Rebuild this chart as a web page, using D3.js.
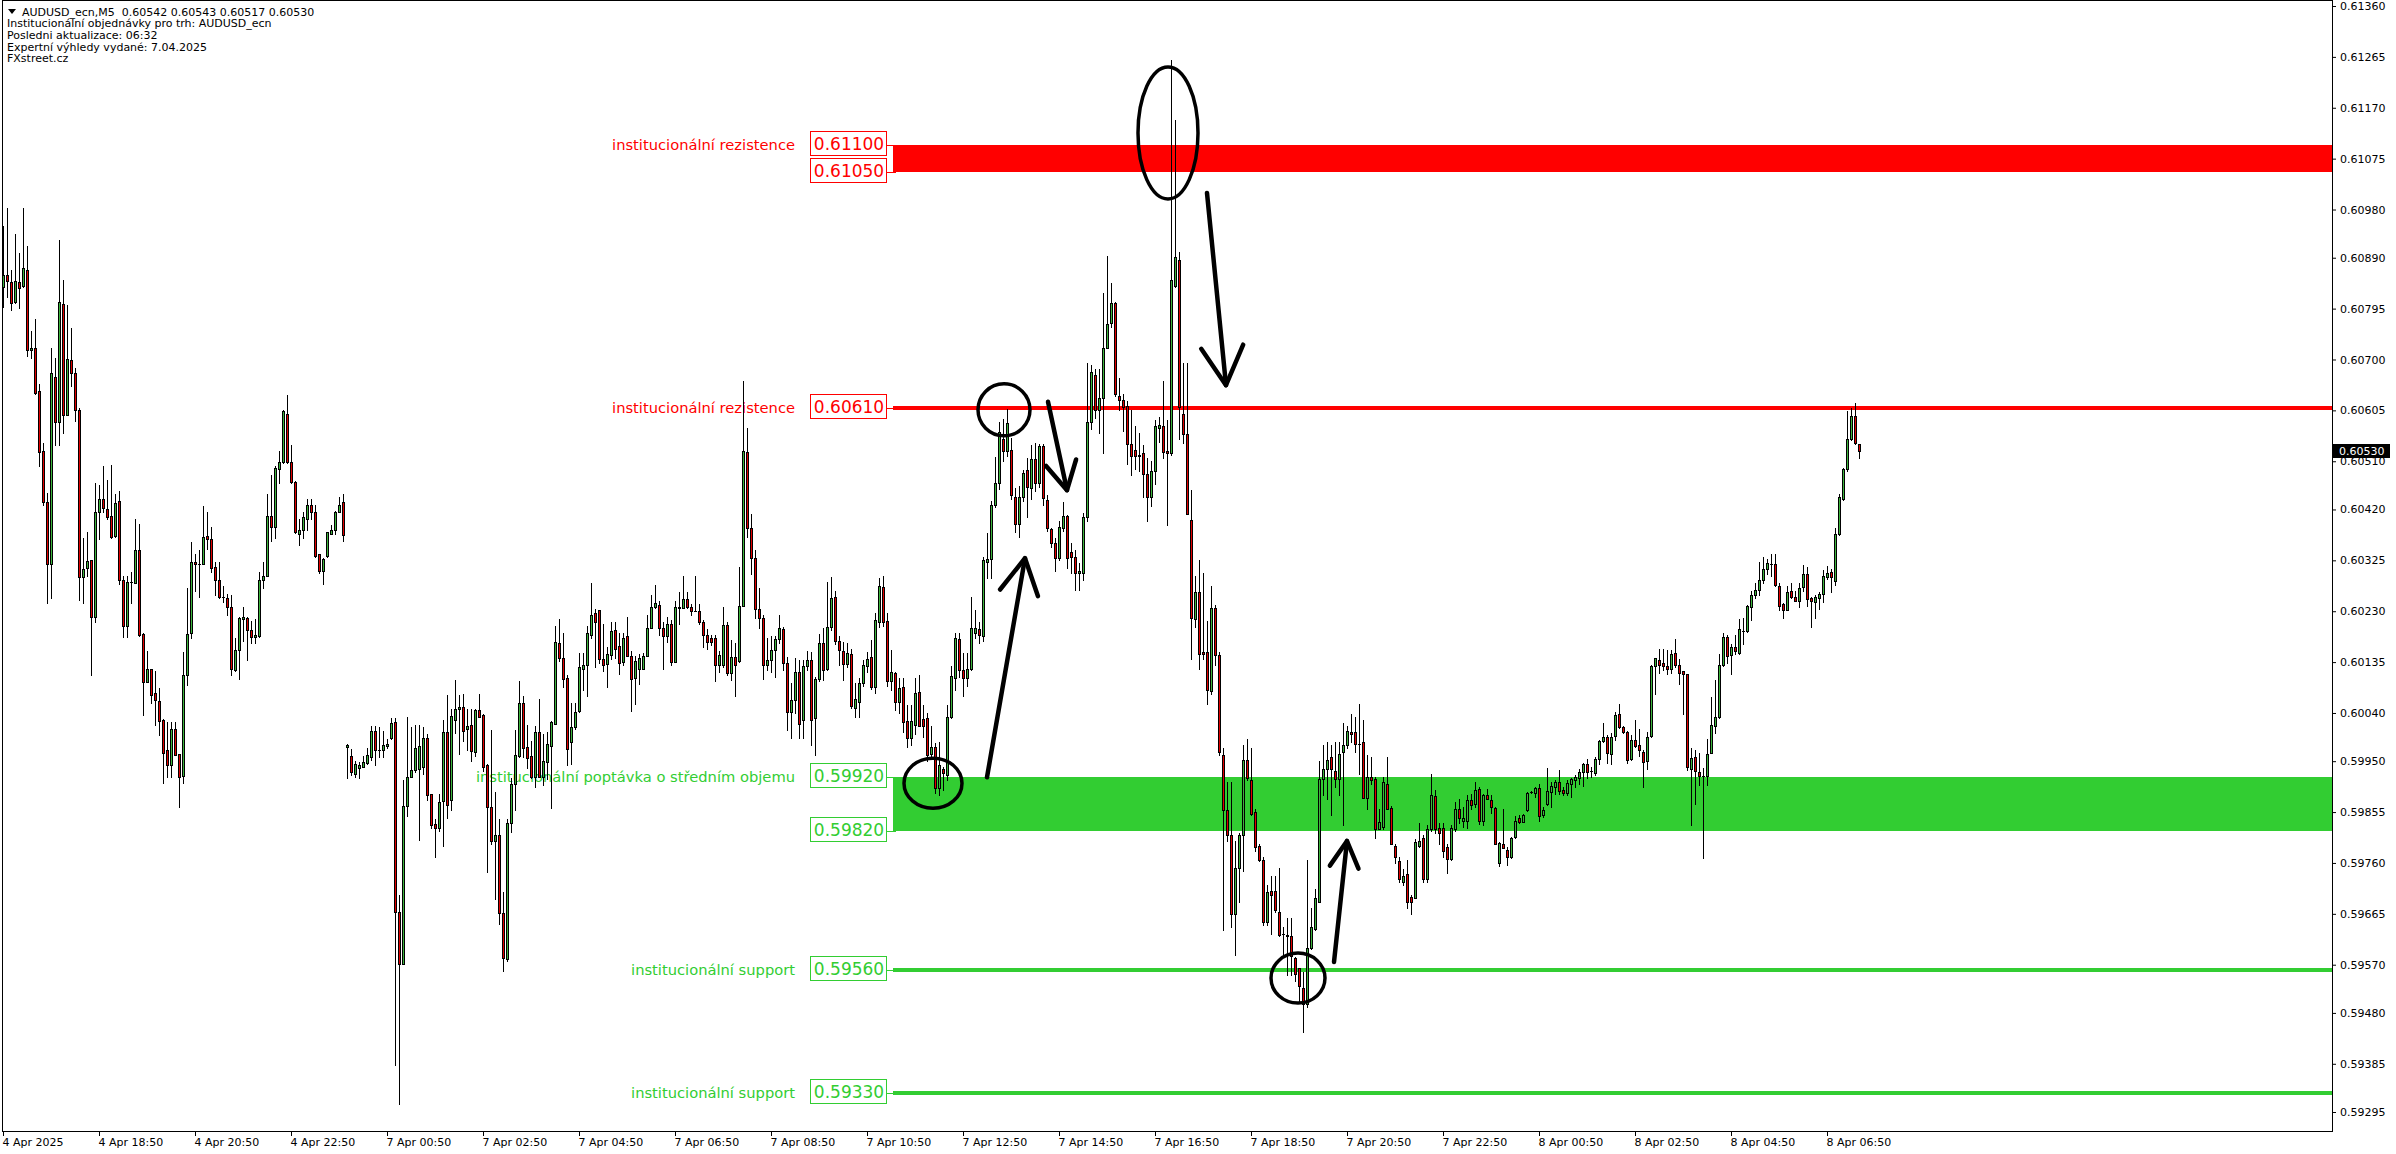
<!DOCTYPE html>
<html><head><meta charset="utf-8">
<script src="https://cdn.jsdelivr.net/npm/d3@7"></script>
<style>
html,body{margin:0;padding:0;background:#fff;}
svg{display:block;}
text{font-family:"DejaVu Sans",sans-serif;}
</style></head><body>
<svg id="chart" width="2396" height="1154"></svg>
<script>
// Prices are in points (1 point = 0.00001). One M5 bar per entry, 4 Apr 16:50 -> 8 Apr 07:30.
const barOpen=[60835,60857,60844,60808,60844,60837,60868,60717,60721,60641,
60529,60433,60319,60667,60583,60804,60597,60699,60675,60606,
60294,60311,60326,60219,60415,60439,60420,60407,60370,60435,
60289,60203,60285,60282,60344,60187,60097,60122,60077,60062,
60027,59970,59942,60011,59963,59922,60110,60189,60322,60319,
60319,60370,60365,60313,60289,60256,60254,60237,60121,60158,
60215,60217,60195,60181,60184,60288,60296,60407,60387,60496,
60509,60599,60509,60472,60374,60381,60402,60428,60416,60336,
60305,60333,60375,60381,60415,60433,59976,59960,59927,59938,
59940,59947,59957,60006,59970,59970,59979,59994,60024,59668,
59572,59866,59921,59934,59936,59939,59993,59889,59833,59825,
59876,60005,59878,60026,60047,60052,60011,60017,59968,60046,
60036,59942,59865,59801,59812,59666,59580,59835,59908,59959,
60058,59976,59959,59921,60005,59921,59949,59979,60020,60170,
60142,60105,59985,60013,60043,60123,60129,60186,60226,60232,
60140,60131,60148,60195,60165,60135,60183,60146,60105,60122,
60123,60146,60199,60238,60242,60199,60183,60206,60135,60236,
60236,60253,60238,60231,60231,60210,60186,60180,60180,60130,
60130,60205,60114,60145,60137,60239,60528,60386,60330,60234,
60218,60129,60139,60158,60178,60197,60134,60041,60064,60117,
60026,60128,60139,60030,60103,60170,60122,60200,60256,60175,
60155,60132,60150,60050,60061,60096,60128,60144,60088,60209,
60276,60212,60099,60114,60060,60088,60025,59993,60017,60080,
60028,60030,59963,59977,59900,59936,59925,60032,60106,60178,
60121,60106,60122,60189,60196,60184,60321,60328,60429,60469,
60551,60530,60531,60444,60393,60444,60494,60460,60514,60470,
60538,60437,60383,60357,60329,60385,60407,60341,60332,60301,
60301,60405,60584,60671,60605,60629,60722,60768,60805,60632,
60625,60613,60543,60531,60519,60525,60486,60444,60492,60573,
60575,60530,60525,60837,60885,60599,60561,60400,60216,60266,
60153,60153,60081,60236,60149,59962,59858,59813,59664,59750,
59813,59952,59914,59855,59792,59765,59649,59708,59708,59668,
59628,59625,59623,59583,59563,59527,59497,59601,59637,59688,
59917,59935,59958,59932,59917,59968,59980,60004,60004,59982,
59986,59882,59920,59917,59823,59827,59908,59863,59792,59763,
59724,59739,59696,59694,59792,59807,59730,59823,59885,59825,
59825,59789,59768,59823,59861,59839,59839,59878,59870,59899,
59838,59886,59878,59862,59760,59796,59785,59772,59809,59844,
59837,59859,59893,59891,59900,59850,59870,59893,59902,59912,
59897,59891,59907,59915,59918,59930,59945,59931,59928,59955,
59987,59996,59963,59997,60038,60013,60005,59954,59989,59981,
59968,59951,59997,60128,60139,60134,60128,60122,60152,60129,
60118,60112,59935,59958,59929,59922,59922,59965,60015,60032,
60130,60181,60149,60164,60152,60194,60193,60237,60260,60269,
60289,60308,60318,60318,60277,60244,60232,60267,60256,60250,
60276,60300,60255,60248,60255,60263,60294,60303,60287,60374,
60440,60496,60551,60594,60542];
const barHigh=[60950,60983,60868,60935,60898,60983,60911,60753,60776,60654,
60544,60451,60721,60702,60924,60848,60802,60758,60684,60610,
60367,60377,60326,60470,60466,60502,60475,60503,60448,60455,
60295,60295,60304,60403,60392,60189,60156,60123,60118,60086,
60029,60023,60023,60023,59964,60154,60274,60359,60337,60344,
60426,60415,60387,60322,60322,60278,60263,60260,60180,60219,
60237,60219,60212,60215,60304,60322,60448,60485,60501,60529,
60606,60634,60540,60474,60403,60416,60439,60439,60429,60337,
60330,60377,60391,60417,60444,60448,59982,59972,59950,59949,
59960,59975,60015,60015,60013,60006,59992,60030,60030,59700,
59915,60032,60013,60017,60017,60013,60000,59889,59842,59889,
60026,60073,60048,60101,60073,60076,60047,60047,60047,60076,
60039,59945,60009,59893,59842,59705,59842,59919,60009,60099,
60071,60017,59987,60015,60067,60000,60005,60025,60203,60215,
60190,60110,60059,60059,60152,60152,60203,60283,60234,60233,
60206,60163,60210,60210,60189,60189,60220,60155,60146,60150,
60152,60223,60260,60279,60250,60210,60219,60214,60249,60266,
60296,60266,60244,60296,60244,60214,60197,60185,60185,60155,
60238,60210,60176,60170,60313,60660,60572,60411,60345,60273,
60223,60180,60183,60183,60223,60200,60145,60096,60142,60139,
60139,60155,60153,60108,60187,60198,60284,60293,60267,60183,
60173,60170,60159,60096,60105,60139,60153,60176,60226,60292,
60295,60226,60158,60117,60105,60105,60055,60055,60105,60111,
60055,60040,60016,59984,59985,59940,60055,60127,60189,60190,
60152,60152,60257,60233,60210,60332,60376,60435,60518,60584,
60589,60607,60553,60460,60463,60494,60516,60541,60545,60543,
60542,60447,60385,60367,60398,60433,60410,60357,60345,60320,
60413,60694,60690,60682,60682,60825,60893,60843,60808,60665,
60635,60623,60605,60575,60563,60540,60516,60510,60587,60593,
60659,60587,61260,61147,60900,60694,60694,60456,60295,60325,
60301,60212,60278,60242,60153,59974,59911,59911,59801,59815,
59980,59992,59974,59861,59795,59771,59718,59736,59736,59751,
59640,59658,59658,59584,59563,59557,59765,59676,59712,59950,
59980,59986,59980,59986,59986,60022,60016,60039,60033,60057,
60027,59962,59958,59920,59861,59920,59958,59867,59795,59771,
59748,59765,59700,59805,59835,59813,59831,59926,59896,59835,
59835,59795,59831,59873,59879,59864,59886,59889,59912,59902,
59889,59899,59886,59865,59799,59860,59790,59809,59848,59849,
59851,59893,59895,59902,59907,59864,59938,59912,59915,59933,
59901,59915,59918,59925,59936,59947,59954,59940,59957,59989,
60021,59999,60002,60041,60057,60015,60007,59999,60027,60010,
59970,60005,60129,60143,60160,60159,60157,60157,60179,60141,
60119,60113,59975,59971,59965,59938,59992,60070,60102,60151,
60189,60186,60168,60186,60216,60218,60242,60267,60282,60322,
60332,60327,60337,60337,60282,60245,60278,60282,60267,60282,
60316,60312,60256,60260,60265,60307,60314,60308,60386,60448,
60498,60604,60609,60619,60543];
const barLow=[60798,60817,60793,60806,60797,60835,60706,60702,60636,60502,
60429,60246,60254,60540,60540,60562,60597,60651,60586,60251,
60246,60296,60110,60209,60364,60415,60403,60367,60368,60280,
60182,60182,60246,60282,60184,60036,60097,60058,60018,59998,
59910,59920,59920,59961,59865,59909,60093,60180,60268,60256,
60319,60346,60304,60260,60254,60248,60223,60110,60119,60103,
60175,60138,60171,60171,60181,60273,60296,60361,60367,60470,
60507,60507,60470,60376,60353,60367,60381,60403,60331,60302,
60280,60331,60374,60375,60415,60361,59919,59925,59921,59919,
59939,59945,59953,59942,59957,59957,59975,59992,59383,59310,
59572,59848,59921,59929,59803,59927,59878,59825,59771,59820,
59792,59844,59859,60002,59963,59987,59970,59951,59960,60033,
59932,59743,59795,59693,59646,59559,59576,59818,59859,59957,
59957,59938,59919,59902,59921,59906,59917,59863,60019,60137,
60088,59942,59945,60011,60041,60083,60071,60180,60126,60133,
60118,60088,60140,60142,60112,60129,60146,60043,60056,60095,
60123,60146,60199,60236,60185,60123,60172,60129,60135,60206,
60236,60236,60223,60230,60206,60163,60159,60167,60100,60116,
60125,60110,60102,60072,60136,60239,60369,60299,60218,60198,
60104,60120,60116,60108,60170,60120,60008,59993,60040,59993,
59993,60120,59980,59962,60099,60102,60121,60195,60168,60130,
60102,60125,60050,60032,60033,60090,60117,60085,60078,60200,
60202,60090,60083,60046,60040,60005,59977,59980,60000,60015,
59995,59950,59955,59890,59887,59896,59915,60030,60083,60108,
60071,60090,60121,60180,60170,60175,60292,60292,60425,60458,
60511,60520,60440,60377,60369,60435,60406,60440,60455,60462,
60428,60380,60350,60305,60326,60380,60310,60302,60269,60269,
60289,60399,60570,60590,60563,60525,60722,60760,60632,60605,
60567,60504,60484,60496,60492,60444,60399,60426,60468,60546,
60516,60391,60522,60835,60551,60545,60412,60141,60200,60123,
60140,60057,60075,60129,59962,59634,59801,59640,59589,59688,
59745,59914,59849,59783,59763,59644,59644,59628,59668,59623,
59589,59551,59551,59539,59503,59444,59491,59599,59634,59688,
59887,59879,59849,59902,59887,59831,59974,59986,59968,59926,
59882,59861,59908,59807,59823,59823,59861,59795,59759,59724,
59718,59676,59664,59694,59790,59724,59724,59820,59815,59795,
59771,59742,59765,59820,59835,59828,59826,59860,59864,59833,
59831,59880,59854,59796,59754,59788,59757,59770,59807,59835,
59837,59857,59891,59884,59839,59846,59869,59864,59889,59888,
59886,59886,59884,59902,59907,59904,59918,59920,59924,59944,
59985,59947,59945,59989,60012,60002,59947,59953,59976,59960,
59902,59935,59996,60076,60115,60121,60112,60115,60126,60095,
60038,59933,59831,59870,59906,59770,59906,59965,60003,60031,
60128,60134,60112,60150,60150,60168,60192,60213,60255,60260,
60282,60300,60296,60277,60232,60217,60232,60255,60249,60238,
60268,60240,60200,60218,60234,60248,60290,60266,60279,60372,
60437,60491,60549,60543,60517];
const barClose=[60857,60846,60806,60846,60834,60871,60717,60721,60638,60527,
60433,60319,60674,60583,60807,60597,60700,60675,60605,60293,
60309,60324,60220,60415,60439,60422,60406,60368,60432,60289,
60203,60285,60284,60344,60186,60098,60123,60074,60064,60025,
59966,59942,60011,59962,59920,60110,60188,60322,60319,60319,
60369,60364,60311,60289,60256,60256,60237,60123,60158,60217,
60219,60195,60181,60186,60288,60296,60407,60387,60498,60508,
60603,60509,60472,60378,60381,60405,60428,60415,60333,60305,
60328,60377,60381,60415,60429,60372,59981,59929,59945,59943,
59949,59962,60006,59970,59971,59980,59983,60022,59668,59572,
59866,59921,59934,59975,59979,59993,59886,59831,59825,59873,
60005,59869,60035,60047,60052,60007,60015,59969,60046,60033,
59940,59865,59801,59812,59666,59582,59835,59908,59962,60058,
59975,59956,59921,60005,59921,59951,59983,60024,60172,60142,
60103,59973,60013,60041,60126,60129,60189,60223,60210,60140,
60129,60150,60193,60159,60133,60180,60146,60103,60137,60142,
60146,60199,60238,60245,60199,60183,60206,60135,60238,60238,
60253,60238,60230,60230,60210,60186,60172,60173,60130,60148,
60205,60114,60145,60130,60239,60529,60385,60330,60234,60217,
60129,60139,60158,60178,60198,60134,60041,60064,60117,60020,
60128,60139,60026,60103,60170,60120,60200,60254,60175,60158,
60132,60152,60053,60066,60096,60130,60140,60089,60213,60277,
60209,60099,60117,60061,60086,60023,59993,60025,60077,60016,
60015,59962,59977,59900,59943,59928,60032,60109,60180,60121,
60106,60122,60198,60198,60186,60326,60328,60428,60469,60564,
60530,60581,60447,60393,60444,60489,60461,60514,60470,60538,
60441,60385,60357,60329,60388,60408,60329,60332,60301,60305,
60405,60584,60677,60605,60629,60722,60766,60805,60635,60625,
60611,60543,60519,60519,60522,60486,60444,60492,60575,60578,
60528,60525,60849,60891,60611,60561,60412,60218,60266,60150,
60150,60083,60236,60149,59968,59858,59813,59664,59750,59813,
59952,59918,59851,59789,59765,59649,59706,59700,59673,59625,
59628,59623,59587,59553,59530,59497,59601,59640,59694,59917,
59935,59952,59935,59917,59964,59980,60006,60000,59982,59982,
59882,59920,59914,59823,59837,59911,59861,59795,59771,59730,
59736,59688,59688,59799,59801,59730,59823,59887,59823,59815,
59783,59768,59825,59861,59843,59844,59878,59869,59897,59839,
59886,59880,59865,59796,59797,59788,59772,59807,59839,59837,
59850,59891,59893,59900,59848,59859,59894,59904,59912,59895,
59891,59910,59916,59920,59929,59945,59929,59931,59955,59987,
59996,59965,59996,60036,60013,60004,59952,59989,59978,59970,
59949,59996,60128,60142,60129,60128,60122,60150,60129,60115,
60112,59940,59956,59931,59922,59922,59963,60018,60032,60130,
60181,60146,60164,60155,60197,60194,60239,60260,60269,60289,
60308,60320,60318,60279,60240,60232,60265,60256,60250,60274,
60300,60253,60250,60256,60262,60295,60301,60293,60374,60443,
60496,60551,60594,60544,60530];

// axis ticks
const yTickValues=[61360,61265,61170,61075,60980,60890,60795,60700,60605,60510,60420,60325,
60230,60135,60040,59950,59855,59760,59665,59570,59480,59385,59295];
const xTickBars=[0,24,48,72,96,120,144,168,192,216,240,264,288,312,336,360,384,408,432,456];
const xTickLabels=["4 Apr 2025","4 Apr 18:50","4 Apr 20:50","4 Apr 22:50","7 Apr 00:50","7 Apr 02:50",
"7 Apr 04:50","7 Apr 06:50","7 Apr 08:50","7 Apr 10:50","7 Apr 12:50","7 Apr 14:50","7 Apr 16:50",
"7 Apr 18:50","7 Apr 20:50","7 Apr 22:50","8 Apr 00:50","8 Apr 02:50","8 Apr 04:50","8 Apr 06:50"];

// institutional zones and lines
const zoneTop=[61100,59920];
const zoneBottom=[61050,59820];
const zoneLabel=["institucionální rezistence","institucionální poptávka o středním objemu"];
const zoneKind=["res","sup"];
const linePrice=[60610,59560,59330];
const lineLabel=["institucionální rezistence","institucionální support","institucionální support"];
const lineKind=["res","sup","sup"];

// header
const headerLines=["AUDUSD_ecn,M5  0.60542 0.60543 0.60517 0.60530",
"Institucionální objednávky pro trh: AUDUSD_ecn",
"Posledni aktualizace: 06:32",
"Expertní výhledy vydané: 7.04.2025",
"FXstreet.cz"];
const lastPrice=60530;

// hand drawn annotations (bar index, price in points)
const ellipseBar=[291.25,250.25,232.5,323.75];
const ellipsePrice=[61123,60606,59909,59545];
const ellipseRx=[30,26,29,27];
const ellipseRy=[66,26,25,25];
const arrowFromBar=[301,261.25,246,332.75];
const arrowFromPrice=[61011,60621,59920,59575];
const arrowToBar=[305.75,266,255.5,336];
const arrowToPrice=[60652,60456,60329,59801];
const arrowHead=[44,32,40,30];

const COL={res:"#ff0000",sup:"#32cd32",bull:"#3cb43c",bear:"#e00000"};

const svg=d3.select("#chart");
svg.append("rect").attr("width",2396).attr("height",1154).attr("fill","#fff");

const x=d3.scaleLinear().domain([0,464]).range([3,1859]);
const y=d3.scaleLinear().domain([59295,61360]).range([1112,6]);
const PR=2332, BOT=1131, ZX=895, BOXL=810, BOXW=76, BOXH=24, TXR=795;

// levels
const lv=svg.append("g").attr("shape-rendering","crispEdges");
function priceBox(p,kind){
  const cy=Math.round(y(p))-2;
  lv.append("rect").attr("x",BOXL+0.5).attr("y",cy-BOXH/2+0.5).attr("width",BOXW).attr("height",BOXH)
    .attr("fill","#fff").attr("stroke",COL[kind]).attr("stroke-width",1);
  svg.append("text").attr("x",BOXL+BOXW/2+1).attr("y",cy+1).attr("text-anchor","middle")
    .attr("dominant-baseline","central").attr("font-size",17).attr("fill",COL[kind]).text((p/1e5).toFixed(5));
  lv.append("rect").attr("x",BOXL+BOXW).attr("y",Math.round(y(p))).attr("width",ZX-BOXL-BOXW).attr("height",1).attr("fill",COL[kind]);
}
zoneTop.forEach((t,i)=>{
  const y0=Math.round(y(t)), y1=Math.round(y(zoneBottom[i])), k=zoneKind[i];
  lv.append("rect").attr("x",ZX+1).attr("y",y0).attr("width",PR-ZX-1).attr("height",y1-y0).attr("fill",COL[k]);
  lv.append("rect").attr("x",ZX-2).attr("y",y0).attr("width",3).attr("height",y1-y0+1).attr("fill",COL[k]);
  priceBox(t,k); priceBox(zoneBottom[i],k);
  svg.append("text").attr("x",TXR).attr("y",y0-1).attr("text-anchor","end").attr("dominant-baseline","central")
    .attr("font-size",14.7).attr("fill",COL[k]).text(zoneLabel[i]);
});
linePrice.forEach((p,i)=>{
  const yc=Math.round(y(p)), k=lineKind[i];
  lv.append("rect").attr("x",ZX-2).attr("y",yc-2).attr("width",PR-ZX+2).attr("height",4).attr("fill",COL[k]);
  priceBox(p,k);
  svg.append("text").attr("x",TXR).attr("y",yc-1).attr("text-anchor","end").attr("dominant-baseline","central")
    .attr("font-size",14.7).attr("fill",COL[k]).text(lineLabel[i]);
});

// candles
const cg=svg.append("g").attr("shape-rendering","crispEdges");
const idx=d3.range(barOpen.length);
cg.selectAll("rect.wick").data(idx).join("rect").attr("class","wick")
  .attr("x",i=>Math.round(x(i))).attr("width",1)
  .attr("y",i=>Math.round(y(Math.max(barHigh[i],barOpen[i],barClose[i]))))
  .attr("height",i=>Math.round(y(Math.min(barLow[i],barOpen[i],barClose[i])))-Math.round(y(Math.max(barHigh[i],barOpen[i],barClose[i])))+1)
  .attr("fill","#000");
cg.selectAll("rect.body").data(idx).join("rect").attr("class","body")
  .attr("x",i=>Math.round(x(i))-1).attr("width",3)
  .attr("y",i=>Math.round(y(Math.max(barOpen[i],barClose[i]))))
  .attr("height",i=>Math.round(y(Math.min(barOpen[i],barClose[i])))-Math.round(y(Math.max(barOpen[i],barClose[i])))+1)
  .attr("fill","#000");
cg.selectAll("rect.fill").data(idx.filter(i=>Math.round(y(Math.min(barOpen[i],barClose[i])))-Math.round(y(Math.max(barOpen[i],barClose[i])))>=2))
  .join("rect").attr("class","fill")
  .attr("x",i=>Math.round(x(i))).attr("width",1)
  .attr("y",i=>Math.round(y(Math.max(barOpen[i],barClose[i])))+1)
  .attr("height",i=>Math.round(y(Math.min(barOpen[i],barClose[i])))-Math.round(y(Math.max(barOpen[i],barClose[i])))-1)
  .attr("fill",i=>barClose[i]>=barOpen[i]?COL.bull:COL.bear);

// annotations
const an=svg.append("g").attr("fill","none").attr("stroke","#000");
ellipseBar.forEach((b,i)=>{
  an.append("ellipse").attr("cx",x(b)).attr("cy",y(ellipsePrice[i])).attr("rx",ellipseRx[i]).attr("ry",ellipseRy[i]).attr("stroke-width",3.5);
});
arrowFromBar.forEach((b,i)=>{
  const x0=x(b), y0=y(arrowFromPrice[i]), x1=x(arrowToBar[i]), y1=y(arrowToPrice[i]);
  const a=Math.atan2(y0-y1,x0-x1), L=arrowHead[i], s=0.5;
  an.append("line").attr("x1",x0).attr("y1",y0).attr("x2",x1).attr("y2",y1).attr("stroke-width",4.5).attr("stroke-linecap","round");
  an.append("polyline").attr("points",[[x1+L*Math.cos(a+s),y1+L*Math.sin(a+s)],[x1,y1],[x1+L*Math.cos(a-s),y1+L*Math.sin(a-s)]].map(p=>p.join(",")).join(" "))
    .attr("stroke-width",4.5).attr("stroke-linecap","round").attr("stroke-linejoin","round");
});

// frame
const fr=svg.append("g").attr("shape-rendering","crispEdges").attr("stroke","#000").attr("stroke-width",1);
fr.append("line").attr("x1",2.5).attr("x2",2.5).attr("y1",0).attr("y2",BOT+1);
fr.append("line").attr("x1",2).attr("x2",PR+1).attr("y1",0.5).attr("y2",0.5);
fr.append("line").attr("x1",PR+0.5).attr("x2",PR+0.5).attr("y1",0).attr("y2",BOT+1);
fr.append("line").attr("x1",2).attr("x2",PR+1).attr("y1",BOT+0.5).attr("y2",BOT+0.5);

// right price axis
const ya=svg.append("g").attr("transform",`translate(${PR+1},0)`)
  .call(d3.axisRight(y).tickValues(yTickValues).tickFormat(v=>(v/1e5).toFixed(5)).tickSize(3).tickPadding(4));
ya.select(".domain").remove();
ya.selectAll("text").attr("font-family","DejaVu Sans").attr("font-size",11).attr("fill","#000");
// current price label
const lpY=Math.round(y(lastPrice));
svg.append("rect").attr("x",PR+1).attr("y",lpY-7).attr("width",57).attr("height",14).attr("fill","#000");
svg.append("text").attr("x",PR+7).attr("y",lpY).attr("dominant-baseline","central").attr("font-size",11).attr("fill","#fff").text((lastPrice/1e5).toFixed(5));

// bottom time axis
const xa=svg.append("g").attr("transform",`translate(0,${BOT+1})`)
  .call(d3.axisBottom(x).tickValues(xTickBars).tickFormat((d,i)=>xTickLabels[i]).tickSize(4).tickPadding(2));
xa.select(".domain").remove();
xa.selectAll("text").attr("font-family","DejaVu Sans").attr("font-size",11).attr("fill","#000").attr("text-anchor","start").attr("dx",-1);

// header
svg.append("path").attr("d","M8,9 L16,9 L12,14 Z").attr("fill","#000");
headerLines.forEach((t,i)=>{
  svg.append("text").attr("x",i===0?22:7).attr("y",12+i*11.7).attr("dominant-baseline","central")
    .attr("font-size",11).attr("fill","#000").style("white-space","pre").text(t);
});
</script>
</body></html>
